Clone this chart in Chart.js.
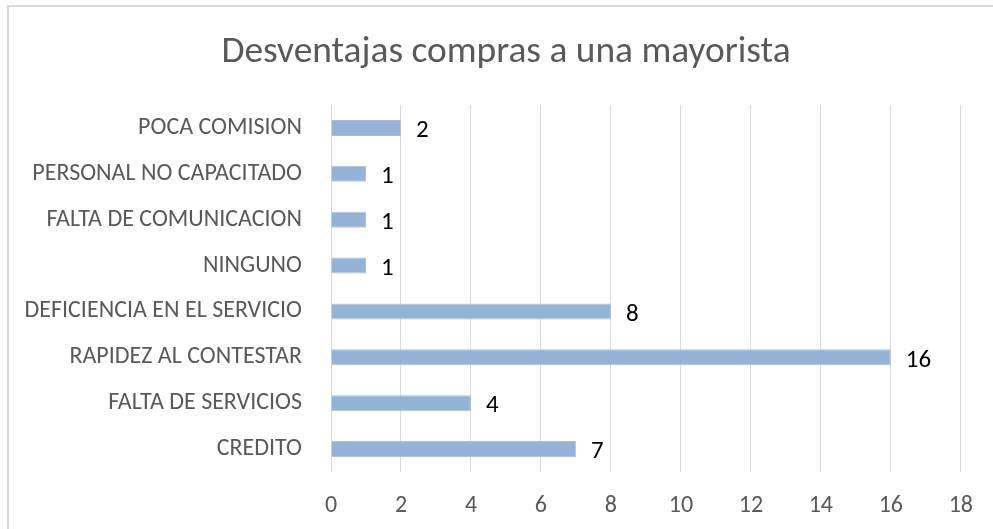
<!DOCTYPE html>
<html>
<head>
<meta charset="utf-8">
<script src="https://cdn.jsdelivr.net/npm/chart.js@4/dist/chart.umd.min.js"></script>
<style>
  html, body { margin: 0; padding: 0; background: #fff; }
  #wrap { position: relative; width: 993px; height: 529px; overflow: hidden; }
  #frame { position: absolute; left: 7px; top: 5px; width: 1100px; height: 600px;
           border-left: 2px solid #d9d9d9; border-top: 2px solid #d9d9d9; box-sizing: border-box; }
  canvas { position: absolute; left: 0; top: 0; }
</style>
</head>
<body>
<div id="wrap">
  <div id="frame"></div>
  <canvas id="c" width="993" height="529"></canvas>
</div>
<script>
const titleText = "Desventajas compras a una mayorista";
const categories = [
  "POCA COMISION",
  "PERSONAL NO CAPACITADO",
  "FALTA DE COMUNICACION",
  "NINGUNO",
  "DEFICIENCIA EN EL SERVICIO",
  "RAPIDEZ AL CONTESTAR",
  "FALTA DE SERVICIOS",
  "CREDITO"
];
const values = [2, 1, 1, 1, 8, 16, 4, 7];
const xMin = 0, xMax = 18, xStep = 2;

const FONT = "Carlito, Lato, 'Open Sans', sans-serif";

const valueLabels = {
  id: 'valueLabels',
  afterDatasetsDraw(chart) {
    const ctx = chart.ctx;
    const meta = chart.getDatasetMeta(0);
    ctx.save();
    ctx.fillStyle = '#000000';
    ctx.font = "25px " + FONT;
    ctx.textAlign = 'left';
    ctx.textBaseline = 'middle';
    meta.data.forEach((bar, i) => {
      ctx.fillText(String(values[i]), bar.x + 15, bar.y + 3);
    });
    ctx.restore();
  }
};

// Title drawn centred over the chart frame (frame spans x 8..1004 in the original)
const chartTitle = {
  id: 'chartTitle',
  afterDraw(chart) {
    const ctx = chart.ctx;
    ctx.save();
    ctx.fillStyle = '#595959';
    ctx.font = "37.4px " + FONT;
    ctx.textAlign = 'center';
    ctx.textBaseline = 'middle';
    ctx.fillText(titleText, 506, 53);
    ctx.restore();
  }
};

new Chart(document.getElementById('c'), {
  type: 'bar',
  data: {
    labels: categories,
    datasets: [{
      data: values,
      backgroundColor: '#95B3D7',
      borderColor: '#a9c2e0',
      borderWidth: 1,
      barPercentage: 0.35,
      categoryPercentage: 1.0
    }]
  },
  options: {
    indexAxis: 'y',
    responsive: false,
    animation: false,
    devicePixelRatio: 1,
    layout: { padding: { left: 0, right: 31, top: 105, bottom: 0 } },
    plugins: {
      legend: { display: false },
      tooltip: { enabled: false },
      title: { display: false }
    },
    scales: {
      x: {
        min: xMin, max: xMax,
        ticks: { stepSize: xStep, color: '#595959', padding: 20,
                 font: { family: FONT, size: 24 } },
        grid: { color: '#d9d9d9', lineWidth: 1, drawTicks: false },
        border: { display: false },
        afterFit(scale) { scale.height = 57; }
      },
      y: {
        ticks: { color: '#595959', padding: 29, autoSkip: false,
                 font: { family: FONT, size: 24 } },
        grid: { display: false, drawTicks: false },
        border: { display: false },
        afterFit(scale) { scale.width = 331; }
      }
    }
  },
  plugins: [valueLabels, chartTitle]
});
</script>
</body>
</html>
